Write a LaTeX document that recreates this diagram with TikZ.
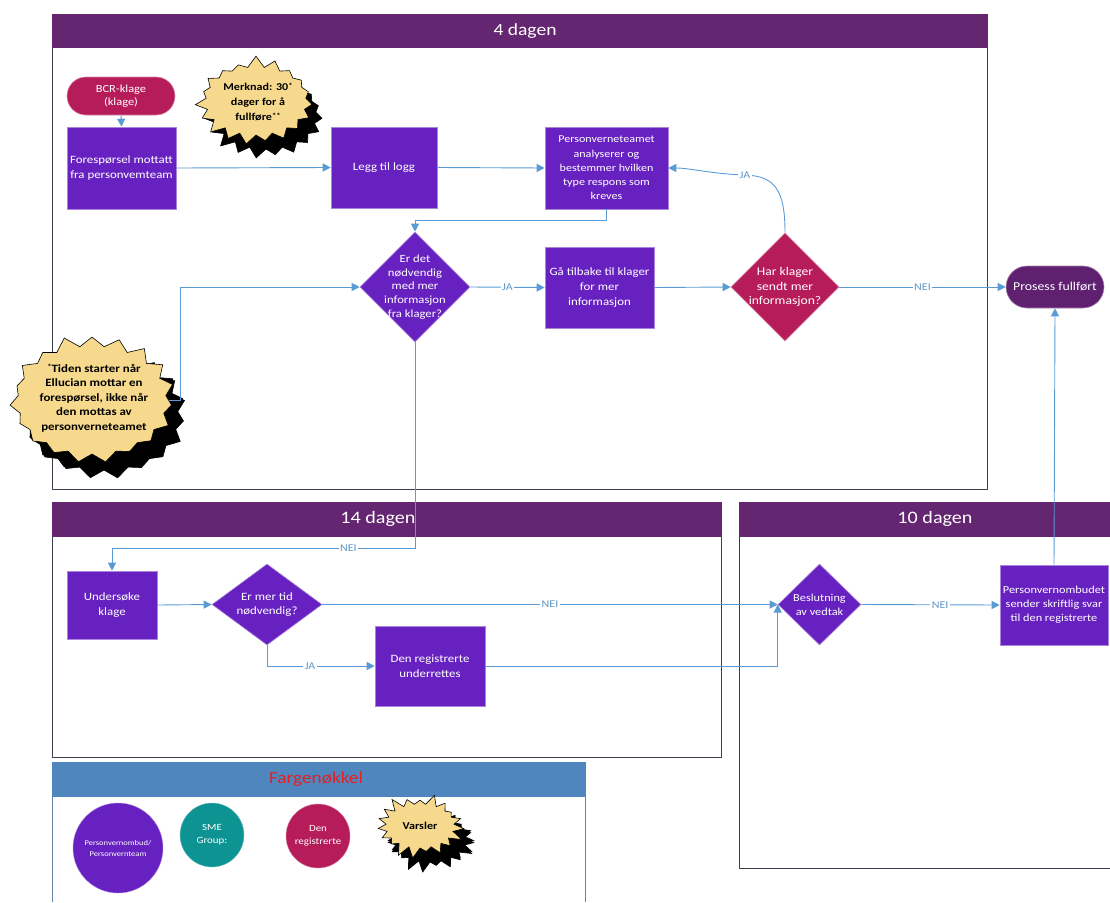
\documentclass[tikz,border=0pt]{standalone}
\usepackage{fontspec}
\setmainfont{Carlito}[FakeStretch=1.15]
\usetikzlibrary{shapes.geometric,shapes.misc,shapes.symbols,arrows.meta,shadows}
\definecolor{boxp}{RGB}{103,33,192}
\definecolor{crim}{RGB}{182,28,90}
\definecolor{hdr}{RGB}{100,38,112}
\definecolor{endp}{RGB}{95,32,112}
\definecolor{conn}{RGB}{91,155,213}
\definecolor{burstc}{RGB}{246,217,140}
\definecolor{legh}{RGB}{79,134,189}
\definecolor{legt}{RGB}{226,32,38}
\definecolor{tealc}{RGB}{14,147,147}
\definecolor{lanec}{RGB}{60,62,75}
\newcommand{\supstar}[1]{\raisebox{0.55ex}{\fontsize{7.5}{7.5}\selectfont #1}}
\begin{document}
\begin{tikzpicture}[x=1pt,y=-1pt,
 pbox/.style={rectangle, fill=boxp, draw=boxp!55!white, line width=0.6pt, text=white, align=center, font=\fontsize{11.2}{15}\selectfont, inner sep=1pt},
 dia/.style={diamond, fill=boxp, draw=boxp!55!white, line width=0.6pt, inner sep=0pt},
 wtext/.style={text=white, align=center, font=\fontsize{11.8}{14.6}\selectfont, inner sep=0pt},
 pill/.style={rounded rectangle, fill=crim, draw=crim!55!white, line width=0.6pt, text=white, align=center, font=\fontsize{10.8}{13.5}\selectfont, inner sep=1pt},
 burst/.style={starburst, starburst points=19, starburst point height=12pt, random starburst=7, fill=burstc, draw=black, line width=0.6pt, inner sep=0pt, copy shadow={shadow xshift=10pt, shadow yshift=-14pt, fill=black, draw=black}},
 btext/.style={align=center, font=\bfseries\fontsize{10.5}{15}\selectfont, inner sep=0pt},
 arr/.style={draw=conn, line width=0.9pt, -{Triangle[width=8pt,length=8pt]}},
 lbl/.style={fill=white, text=conn!85!gray, font=\fontsize{10.4}{11}\selectfont, inner sep=1.5pt},
 lane/.style={draw=lanec, line width=0.8pt},
 htext/.style={text=white, font=\fontsize{17.5}{19}\selectfont},
]
\path[use as bounding box] (0,0) rectangle (1110,902);
% lane 1
\draw[lane] (52,14) rectangle (987,489);
\fill[hdr] (52,14) rectangle (987,48);
\node[htext, font=\fontsize{17}{19}\selectfont] (h1) at (525,31) {4 dagen};
% lane 2
\draw[lane] (52,502) rectangle (721,757);
\fill[hdr] (52,502) rectangle (721,537);
\node[htext] (h2) at (378,519) {14 dagen};
% lane 3
\draw[lane] (1110,868) -- (739,868) -- (739,502) -- (1110,502);
\fill[hdr] (739,502) rectangle (1110,537);
\node[htext] (h3) at (935,519) {10 dagen};
% legend
\draw[draw=legh!60!gray, line width=0.8pt] (52,902) -- (52,762) -- (585,762) -- (585,902);
\fill[legh] (52,762) rectangle (585,797);
\node[text=legt, font=\fontsize{16.8}{18}\selectfont] (h4) at (316,779) {Fargenøkkel};

% nodes lane 1
\node[pill, minimum width=110pt, minimum height=38pt] (bcr) at (121,96) {BCR-klage\\(klage)};
\node[pbox, minimum width=109pt, minimum height=82pt] (fore) at (121.5,168) {Forespørsel mottatt\\fra personvemteam};
\node[burst, minimum width=124pt, minimum height=92pt] (merk) at (256,101) {};
\node[btext] (merkt) at (258,102) {Merknad: 30\supstar{*}\\dager for å\\fullføre\supstar{**}};
\node[pbox, minimum width=106pt, minimum height=81pt] (logg) at (384,167.5) {Legg til logg};
\node[pbox, minimum width=123pt, minimum height=82pt, font=\fontsize{10.5}{14.3}\selectfont] (pva) at (606.5,168) {Personverneteamet\\analyserer og\\bestemmer hvilken\\type respons som\\kreves};
\node[dia, minimum width=110pt, minimum height=110pt] (d1) at (415,287) {};
\node[wtext, font=\fontsize{11}{13.8}\selectfont] (d1t) at (d1) {Er det\\nødvendig\\med mer\\informasjon\\fra klager?};
\node[pbox, minimum width=109pt, minimum height=81pt] (ga) at (599.5,287.5) {Gå tilbake til klager\\for mer\\informasjon};
\node[dia, fill=crim, draw=crim!55!white, minimum width=108pt, minimum height=108pt] (d2) at (785,287) {};
\node[wtext] (d2t) at (d2) {Har klager\\sendt mer\\informasjon?};
\node[pill, fill=endp, draw=endp!55!white, minimum width=100pt, minimum height=42pt, font=\fontsize{12}{14}\selectfont] (done) at (1055,287) {Prosess fullført};
\node[burst, minimum width=172pt, minimum height=132pt, random starburst=11, copy shadow={shadow xshift=12pt, shadow yshift=-16pt, fill=black, draw=black}] (tid) at (92,400) {};
\node[btext, font=\bfseries\fontsize{11.2}{14.6}\selectfont] (tidt) at (94,398) {\supstar{*}Tiden starter når\\Ellucian mottar en\\forespørsel, ikke når\\den mottas av\\personverneteamet};

% nodes lane 2
\node[pbox, minimum width=90pt, minimum height=68pt] (und) at (112,605) {Undersøke\\klage};
\node[dia, minimum width=110pt, minimum height=81pt] (d3) at (267,604.5) {};
\node[wtext, font=\fontsize{11.2}{14.6}\selectfont] (d3t) at (d3) {Er mer tid\\nødvendig?};
\node[pbox, minimum width=110pt, minimum height=80pt] (reg) at (430,666) {Den registrerte\\underrettes};

% nodes lane 3
\node[dia, minimum width=83pt, minimum height=81pt] (d4) at (819.5,604.5) {};
\node[wtext, font=\fontsize{10.7}{14}\selectfont] (d4t) at (d4) {Beslutning\\av vedtak};
\node[pbox, minimum width=108pt, minimum height=80pt, font=\fontsize{10.7}{14}\selectfont, inner sep=0pt] (pvo) at (1054,605) {Personvernombudet\\sender skriftlig svar\\til den registrerte};

% legend items
\node[circle, fill=boxp, draw=boxp!55!white, minimum size=90pt, inner sep=0pt, text=white, align=center, font=\fontsize{7.4}{11}\selectfont] (c1) at (118,848) {Personvernombud/\\Personvernteam};
\node[circle, fill=tealc, draw=tealc!55!white, minimum size=64pt, inner sep=0pt, text=white, align=center, font=\fontsize{9.5}{13}\selectfont] (c2) at (212,835) {SME\\Group:};
\node[circle, fill=crim, draw=crim!55!white, minimum size=64pt, inner sep=0pt, text=white, align=center, font=\fontsize{9.5}{13}\selectfont] (c3) at (318,836) {Den\\registrerte};
\node[burst, minimum width=92pt, minimum height=68pt, random starburst=3, copy shadow={shadow xshift=10pt, shadow yshift=-12pt, fill=black, draw=black}] (vars) at (420,826) {};
\node[btext, font=\bfseries\fontsize{10.5}{12}\selectfont] (varst) at (vars) {Varsler};

% connectors
\draw[arr] (bcr.south) -- (fore.north);
\draw[arr] (fore.east) -- (logg.west);
\draw[arr] (logg.east) -- (pva.west);
\draw[arr] (pva.south) -- ++(0,11) -| (d1.north);
\draw[arr] (d1.east) -- node[lbl]{JA} (ga.west);
\draw[arr] (ga.east) -- (d2.west);
\draw[arr] (d2.north) .. controls (785,190) and (775,176) .. (745,175) node[lbl]{JA} .. controls (712,174) and (690,168) .. (pva.east);
\draw[arr] (d2.east) -- node[lbl]{NEI} (done.west);
\draw[arr] (tid.east) -- ++(12,0) |- (d1.west);
\draw[arr] (d1.south) -- ++(0,206) -| node[lbl, pos=0.11]{NEI} (und.north);
\draw[arr] (und.east) -- (d3.west);
\draw[arr] (d3.east) -- node[lbl]{NEI} (d4.west);
\draw[arr] (d3.south) |- node[lbl, pos=0.7]{JA} (reg.west);
\draw[arr] (reg.east) -| (d4.west);
\draw[arr] (d4.east) -- node[lbl, pos=0.57]{NEI} (pvo.west);
\draw[arr] (pvo.north) -- (done.south);
\end{tikzpicture}
\end{document}
